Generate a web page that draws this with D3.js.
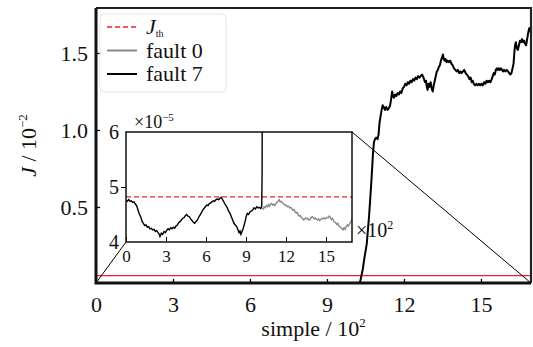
<!DOCTYPE html>
<html>
<head>
<meta charset="utf-8">
<script src="https://cdn.jsdelivr.net/npm/d3@7"></script>
<style>
  body { margin: 0; background: #fff; }
  svg text { font-family: "Liberation Serif", "Times New Roman", "DejaVu Serif", serif; fill: #111; }
</style>
</head>
<body>
<div id="chart"></div>
<script>
// ---- data ----
// x in units of 10^2 samples, main J in 10^-2, inset J in 10^-5
const xTicks = [0, 3, 6, 9, 12, 15];
const yTicksMain = [0.5, 1.0, 1.5];
const yTicksInset = [4, 5, 6];
const jThMain = 0.055;
const jThInset = 4.82;

const fault7Main = [[10.25,0.005],[10.30,0.02],[10.35,0.06],[10.40,0.10],[10.45,0.16],[10.50,0.21],[10.55,0.26],[10.60,0.36],[10.64,0.44],[10.68,0.54],[10.72,0.64],[10.76,0.75],[10.79,0.84],[10.83,0.92],[10.87,0.94],[10.92,0.95],[10.97,0.94],[11.01,0.97],[11.05,1.05],[11.09,1.09],[11.13,1.13],[11.17,1.16],[11.21,1.15],[11.26,1.13],[11.31,1.15],[11.36,1.13],[11.41,1.14],[11.46,1.16],[11.50,1.20],[11.54,1.25],[11.57,1.22],[11.61,1.21],[11.65,1.23],[11.70,1.22],[11.75,1.24],[11.80,1.23],[11.85,1.25],[11.90,1.24],[11.95,1.27],[12.00,1.28],[12.05,1.30],[12.10,1.29],[12.15,1.31],[12.20,1.30],[12.25,1.32],[12.30,1.31],[12.35,1.33],[12.40,1.32],[12.45,1.34],[12.50,1.33],[12.55,1.35],[12.60,1.34],[12.65,1.35],[12.70,1.36],[12.74,1.35],[12.78,1.33],[12.82,1.31],[12.86,1.32],[12.89,1.28],[12.92,1.26],[12.96,1.30],[13.00,1.28],[13.04,1.31],[13.08,1.27],[13.12,1.25],[13.16,1.29],[13.20,1.32],[13.24,1.35],[13.28,1.38],[13.32,1.39],[13.36,1.41],[13.40,1.42],[13.44,1.45],[13.48,1.47],[13.52,1.49],[13.55,1.46],[13.58,1.45],[13.62,1.46],[13.66,1.44],[13.70,1.45],[13.75,1.44],[13.80,1.45],[13.85,1.43],[13.90,1.42],[13.95,1.40],[14.00,1.39],[14.05,1.38],[14.10,1.39],[14.15,1.37],[14.20,1.38],[14.25,1.37],[14.30,1.38],[14.35,1.39],[14.40,1.37],[14.45,1.36],[14.50,1.35],[14.55,1.33],[14.60,1.34],[14.64,1.31],[14.68,1.32],[14.72,1.30],[14.77,1.29],[14.82,1.30],[14.87,1.29],[14.92,1.30],[14.97,1.29],[15.02,1.30],[15.07,1.29],[15.12,1.31],[15.17,1.30],[15.22,1.32],[15.27,1.31],[15.32,1.32],[15.37,1.31],[15.42,1.33],[15.46,1.35],[15.50,1.37],[15.54,1.36],[15.58,1.39],[15.62,1.40],[15.66,1.39],[15.70,1.40],[15.74,1.39],[15.78,1.40],[15.82,1.39],[15.86,1.38],[15.90,1.39],[15.95,1.38],[16.00,1.39],[16.05,1.38],[16.10,1.37],[16.15,1.36],[16.19,1.37],[16.23,1.40],[16.27,1.43],[16.30,1.50],[16.33,1.55],[16.36,1.57],[16.40,1.53],[16.44,1.52],[16.48,1.55],[16.52,1.58],[16.56,1.57],[16.60,1.59],[16.64,1.57],[16.68,1.58],[16.72,1.56],[16.76,1.55],[16.80,1.59],[16.84,1.63],[16.88,1.66],[16.91,1.64],[16.94,1.67]];

const fault7Inset = [[0,4.76],[0.1,4.74],[0.2,4.77],[0.3,4.74],[0.4,4.75],[0.5,4.72],[0.6,4.73],[0.7,4.69],[0.8,4.66],[0.9,4.58],[1.0,4.51],[1.1,4.46],[1.2,4.38],[1.3,4.34],[1.4,4.30],[1.5,4.31],[1.6,4.27],[1.7,4.28],[1.8,4.24],[1.9,4.25],[2.0,4.22],[2.1,4.23],[2.2,4.19],[2.3,4.21],[2.4,4.17],[2.5,4.14],[2.55,4.10],[2.65,4.16],[2.75,4.14],[2.85,4.19],[2.95,4.17],[3.05,4.21],[3.15,4.24],[3.25,4.22],[3.35,4.26],[3.45,4.24],[3.55,4.27],[3.65,4.25],[3.75,4.29],[3.85,4.31],[3.95,4.35],[4.05,4.37],[4.15,4.40],[4.25,4.43],[4.35,4.44],[4.45,4.48],[4.55,4.50],[4.65,4.47],[4.75,4.46],[4.85,4.42],[4.95,4.39],[5.05,4.36],[5.15,4.34],[5.25,4.37],[5.35,4.40],[5.45,4.45],[5.55,4.49],[5.65,4.53],[5.75,4.58],[5.85,4.61],[5.95,4.64],[6.05,4.67],[6.15,4.66],[6.25,4.70],[6.35,4.71],[6.45,4.73],[6.55,4.75],[6.65,4.74],[6.75,4.77],[6.85,4.78],[6.95,4.77],[7.05,4.80],[7.15,4.81],[7.22,4.78],[7.30,4.75],[7.40,4.70],[7.50,4.66],[7.60,4.62],[7.70,4.56],[7.80,4.52],[7.90,4.46],[8.00,4.40],[8.10,4.34],[8.20,4.31],[8.30,4.28],[8.40,4.22],[8.48,4.17],[8.55,4.20],[8.62,4.14],[8.70,4.19],[8.78,4.24],[8.86,4.31],[8.94,4.38],[9.02,4.47],[9.10,4.52],[9.20,4.50],[9.30,4.55],[9.40,4.56],[9.50,4.58],[9.60,4.62],[9.70,4.60],[9.80,4.64],[9.90,4.62],[10.00,4.63],[10.10,4.61],[10.18,4.65],[10.21,5.30],[10.22,7.00]];

const fault0Inset = [[10.20,4.62],[10.28,4.60],[10.36,4.64],[10.44,4.62],[10.52,4.66],[10.60,4.64],[10.68,4.68],[10.76,4.65],[10.84,4.69],[10.92,4.70],[11.00,4.67],[11.08,4.69],[11.16,4.66],[11.24,4.70],[11.32,4.72],[11.40,4.74],[11.48,4.77],[11.56,4.73],[11.64,4.74],[11.72,4.71],[11.80,4.70],[11.88,4.68],[11.96,4.66],[12.04,4.67],[12.12,4.64],[12.20,4.65],[12.28,4.62],[12.36,4.63],[12.44,4.60],[12.52,4.58],[12.60,4.59],[12.68,4.55],[12.76,4.53],[12.84,4.54],[12.92,4.49],[13.00,4.47],[13.08,4.48],[13.16,4.44],[13.24,4.43],[13.32,4.40],[13.40,4.42],[13.48,4.44],[13.56,4.42],[13.64,4.43],[13.72,4.40],[13.80,4.41],[13.88,4.44],[13.96,4.46],[14.04,4.45],[14.12,4.42],[14.20,4.44],[14.28,4.41],[14.36,4.40],[14.44,4.42],[14.52,4.39],[14.60,4.41],[14.68,4.43],[14.76,4.42],[14.84,4.44],[14.92,4.42],[15.00,4.43],[15.08,4.45],[15.16,4.44],[15.24,4.47],[15.32,4.45],[15.40,4.41],[15.48,4.43],[15.56,4.39],[15.64,4.36],[15.72,4.35],[15.80,4.32],[15.88,4.34],[15.96,4.29],[16.04,4.28],[16.12,4.26],[16.20,4.24],[16.28,4.22],[16.36,4.26],[16.44,4.23],[16.52,4.28],[16.60,4.31],[16.68,4.29],[16.76,4.33],[16.84,4.36],[16.92,4.39],[16.95,4.42]];

const legendItems = [
  { key: "jth", label: "J", sub: "th", color: "#e8262b", dash: "5,3" },
  { key: "f0", label: "fault 0", color: "#8a8a8a", dash: null },
  { key: "f7", label: "fault 7", color: "#000", dash: null }
];

// ---- layout ----
const width = 533, height = 347;
const serif = '"Liberation Serif", "Times New Roman", serif';
const main = { left: 96, right: 531, top: 8, bottom: 283 };
const inset = { left: 126, right: 352, top: 132, bottom: 242 };

const svg = d3.select('#chart').append('svg')
  .attr('width', width).attr('height', height)
  .attr('font-family', serif);

const x = d3.scaleLinear().domain([0, 16.95]).range([main.left, main.right]);
const y = d3.scaleLinear().domain([0, 1.792]).range([284, main.top]);
const xi = d3.scaleLinear().domain([0, 16.95]).range([inset.left, inset.right]);
const yi = d3.scaleLinear().domain([4, 6]).range([inset.bottom, inset.top]);

// clip paths
const defs = svg.append('defs');
defs.append('clipPath').attr('id', 'clipMain').append('rect')
  .attr('x', main.left).attr('y', main.top)
  .attr('width', main.right - main.left).attr('height', main.bottom - main.top);
defs.append('clipPath').attr('id', 'clipInset').append('rect')
  .attr('x', inset.left).attr('y', inset.top)
  .attr('width', inset.right - inset.left).attr('height', inset.bottom - inset.top);

// threshold in main plot
svg.append('line')
  .attr('x1', main.left).attr('x2', main.right)
  .attr('y1', y(jThMain)).attr('y2', y(jThMain))
  .attr('stroke', '#e8262b').attr('stroke-width', 1.2);

// fault 7 main curve
const lineMain = d3.line().x(d => x(d[0])).y(d => y(d[1]));
svg.append('path').datum(fault7Main)
  .attr('clip-path', 'url(#clipMain)')
  .attr('d', lineMain)
  .attr('fill', 'none').attr('stroke', '#000').attr('stroke-width', 2)
  .attr('stroke-linejoin', 'round');

// zoom connector lines
svg.append('line')
  .attr('x1', x(0)).attr('y1', main.bottom)
  .attr('x2', inset.left).attr('y2', inset.bottom)
  .attr('stroke', '#000').attr('stroke-width', 1);
svg.append('line')
  .attr('x1', inset.right).attr('y1', inset.top)
  .attr('x2', main.right).attr('y2', main.bottom)
  .attr('stroke', '#000').attr('stroke-width', 1);

function styleTicks(g, size, fill) {
  g.select('.domain').remove();
  g.attr('font-family', serif);
  g.selectAll('.tick line').attr('stroke', '#000');
  g.selectAll('text').attr('font-size', size).attr('fill', fill)
    .style('font-family', serif);
}

// main axes (inward ticks)
const xAxis = d3.axisBottom(x).tickValues(xTicks).tickSize(-4).tickSizeOuter(0).tickPadding(13)
  .tickFormat(d3.format('d'));
svg.append('g').attr('transform', `translate(0,${main.bottom})`).call(xAxis)
  .call(g => styleTicks(g, 22, '#111'))
  .call(g => g.selectAll('.tick line').attr('stroke-width', 1.3));

const yAxis = d3.axisLeft(y).tickValues(yTicksMain).tickSize(-4).tickSizeOuter(0).tickPadding(8)
  .tickFormat(d3.format('.1f'));
svg.append('g').attr('transform', `translate(${main.left},0)`).call(yAxis)
  .call(g => styleTicks(g, 22, '#111'))
  .call(g => g.selectAll('.tick line').attr('stroke-width', 1.3));

// main frame
svg.append('path')
  .attr('d', `M${main.left},${main.top}H${main.right}V${main.bottom}`)
  .attr('fill', 'none').attr('stroke', '#222').attr('stroke-width', 2.2);
svg.append('path')
  .attr('d', `M${main.left},${main.top}V${main.bottom}H${main.right}`)
  .attr('fill', 'none').attr('stroke', '#111').attr('stroke-width', 3);

// ---- inset ----
svg.append('rect')
  .attr('x', inset.left).attr('y', inset.top)
  .attr('width', inset.right - inset.left).attr('height', inset.bottom - inset.top)
  .attr('fill', '#fff');

const lineInset = d3.line().x(d => xi(d[0])).y(d => yi(d[1]));
svg.append('line')
  .attr('x1', inset.left).attr('x2', inset.right)
  .attr('y1', yi(jThInset)).attr('y2', yi(jThInset))
  .attr('stroke', '#e8262b').attr('stroke-width', 1.3).attr('stroke-dasharray', '5,3');

svg.append('path').datum(fault0Inset)
  .attr('clip-path', 'url(#clipInset)')
  .attr('d', lineInset)
  .attr('fill', 'none').attr('stroke', '#8a8a8a').attr('stroke-width', 1.4);
svg.append('path').datum(fault7Inset)
  .attr('clip-path', 'url(#clipInset)')
  .attr('d', lineInset)
  .attr('fill', 'none').attr('stroke', '#000').attr('stroke-width', 1.4);

const xAxisI = d3.axisBottom(xi).tickValues(xTicks).tickSize(-5).tickSizeOuter(0).tickPadding(8)
  .tickFormat(d3.format('d'));
svg.append('g').attr('transform', `translate(0,${inset.bottom})`).call(xAxisI)
  .call(g => styleTicks(g, 17, '#222'));

const yAxisI = d3.axisLeft(yi).tickValues(yTicksInset).tickSize(5).tickSizeOuter(0).tickPadding(2)
  .tickFormat(d3.format('d'));
svg.append('g').attr('transform', `translate(${inset.left},0)`).call(yAxisI)
  .call(g => styleTicks(g, 20, '#222'))
  .call(g => g.selectAll('.tick line').filter(d => d !== 5).remove());

svg.append('rect')
  .attr('x', inset.left).attr('y', inset.top)
  .attr('width', inset.right - inset.left).attr('height', inset.bottom - inset.top)
  .attr('fill', 'none').attr('stroke', '#111').attr('stroke-width', 1.5);

// inset exponent labels
const expTop = svg.append('text').attr('x', 134).attr('y', 128).attr('font-size', 18);
expTop.append('tspan').text('×10');
expTop.append('tspan').attr('dy', -7).attr('font-size', 11).text('−5');

const expRight = svg.append('text').attr('x', 356).attr('y', 237).attr('font-size', 20);
expRight.append('tspan').text('×10');
expRight.append('tspan').attr('dy', -8).attr('font-size', 12).text('2');

// ---- axis titles ----
const xTitle = svg.append('text')
  .attr('x', (main.left + main.right) / 2).attr('y', 336)
  .attr('text-anchor', 'middle').attr('font-size', 22);
xTitle.append('tspan').text('simple / 10');
xTitle.append('tspan').attr('dy', -9).attr('font-size', 13).text('2');

const yTitle = svg.append('text')
  .attr('transform', `translate(36,${(main.top + main.bottom) / 2}) rotate(-90)`)
  .attr('text-anchor', 'middle').attr('font-size', 22);
yTitle.append('tspan').attr('font-style', 'italic').text('J');
yTitle.append('tspan').text(' / 10');
yTitle.append('tspan').attr('dy', -9).attr('font-size', 13).text('−2');

// ---- legend ----
const legend = svg.append('g');
legend.append('rect')
  .attr('x', 100).attr('y', 14).attr('width', 126).attr('height', 78)
  .attr('rx', 4).attr('fill', '#fff').attr('stroke', '#e4e4e4').attr('stroke-width', 1);

const legendY = d3.scalePoint().domain(legendItems.map(d => d.key)).range([27, 74]);
const rows = legend.selectAll('g.item').data(legendItems).enter().append('g')
  .attr('class', 'item')
  .attr('transform', d => `translate(0,${legendY(d.key)})`);
rows.append('line')
  .attr('x1', 107).attr('x2', 137).attr('y1', 0).attr('y2', 0)
  .attr('stroke', d => d.color).attr('stroke-width', d => d.key === 'jth' ? 1.6 : 2)
  .attr('stroke-dasharray', d => d.dash);
rows.each(function(d) {
  const t = d3.select(this).append('text').attr('x', 146).attr('y', 7).attr('font-size', 22);
  if (d.sub) {
    t.append('tspan').attr('font-style', 'italic').text(d.label);
    t.append('tspan').attr('dy', 3).attr('font-size', 10).text(d.sub);
  } else {
    t.text(d.label);
  }
});
</script>
</body>
</html>
